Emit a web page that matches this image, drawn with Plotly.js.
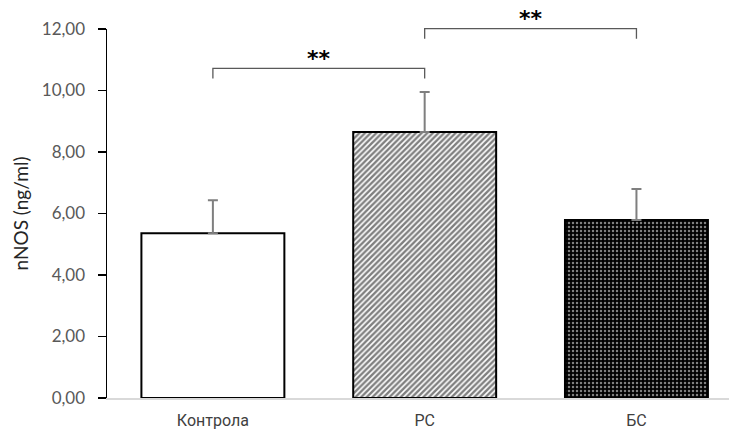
<!DOCTYPE html>
<html><head><meta charset="utf-8">
<script src="https://cdn.plot.ly/plotly-3.0.1.min.js"></script>
<style>body{margin:0;background:#fff}#chart{width:729px;height:434px}</style>
</head><body><div id="chart"></div>
<script>
const categories = ['Контрола', 'PC', 'БС'];
const means = [5.36, 8.65, 5.79];
const errors = [1.07, 1.30, 1.01];
const yTicks = [0, 2, 4, 6, 8, 10, 12];
const sigPairs = [[0, 1], [1, 2]];
const sigLabels = ['**', '**'];
const sigHeights = [10.72, 12.01];

const patterns = [
  {shape: '', fgcolor: '#000000', bgcolor: '#ffffff', size: 5, solidity: 0.3},
  {shape: '/', fgcolor: '#000000', bgcolor: '#ffffff', size: 4, solidity: 0.6},
  {shape: '.', fgcolor: '#ffffff', bgcolor: '#000000', size: 4, solidity: 0.3}
];

const trace = {
  type: 'bar',
  x: categories.map((c, i) => i),
  y: means,
  width: 0.675,
  marker: {
    color: '#ffffff',
    line: {color: '#000000', width: 2},
    pattern: {
      shape: patterns.map(p => p.shape),
      fgcolor: patterns.map(p => p.fgcolor),
      bgcolor: patterns.map(p => p.bgcolor),
      size: patterns.map(p => p.size),
      solidity: patterns.map(p => p.solidity),
      fillmode: 'overlay'
    }
  },
  error_y: {type: 'data', array: errors, symmetric: false, arrayminus: [0,0,0], color: '#7f7f7f', thickness: 2, width: 5},
  hoverinfo: 'none'
};

const ymax = 12;
const shapes = [];
const annotations = [];
sigPairs.forEach((p, k) => {
  const yTop = sigHeights[k] / ymax;
  const yBot = (sigHeights[k] - 0.33) / ymax;
  const x0 = p[0], x1 = p[1];
  shapes.push({type: 'path', xref: 'x', yref: 'paper',
    path: `M ${x0} ${yBot} L ${x0} ${yTop} L ${x1} ${yTop} L ${x1} ${yBot}`,
    line: {color: '#595959', width: 1.3}});
  annotations.push({x: (x0 + x1) / 2, y: (sigHeights[k] + 0.33) / ymax, xref: 'x', yref: 'paper', text: '<b>' + sigLabels[k] + '</b>',
    showarrow: false, yanchor: 'middle', font: {size: 22, color: '#000000', family: 'DejaVu Sans, sans-serif'}});
});

const layout = {
  width: 729, height: 434,
  margin: {l: 107, r: 0, t: 29, b: 36},
  paper_bgcolor: '#ffffff', plot_bgcolor: '#ffffff',
  separators: ',.',
  showlegend: false,
  font: {family: 'Lato, sans-serif', color: '#595959'},
  xaxis: {
    range: [-0.5, 2.437],
    tickmode: 'array', tickvals: categories.map((c, i) => i), ticktext: categories,
    showline: true, linecolor: '#d9d9d9', linewidth: 1.5,
    ticks: '', showgrid: false, zeroline: false,
    ticklabelstandoff: 7,
    tickfont: {size: 16, color: '#404040', family: 'Roboto, sans-serif'}
  },
  yaxis: {
    range: [0, ymax],
    tickmode: 'array', tickvals: yTicks, tickformat: '.2f',
    showline: true, linecolor: '#000000', linewidth: 1.5,
    ticks: 'outside', ticklen: 8, tickcolor: '#000000', tickwidth: 1.5,
    ticklabelstandoff: 9,
    showgrid: false, zeroline: false,
    tickfont: {size: 17, color: '#595959', family: 'Lato, sans-serif'},
    title: {text: 'nNOS (ng/ml)', standoff: 8, font: {size: 19, color: '#262626', family: 'Lato, sans-serif'}}
  },
  shapes: shapes,
  annotations: annotations
};

Plotly.newPlot('chart', [trace], layout, {displayModeBar: false, staticPlot: true});
</script>
</body></html>
